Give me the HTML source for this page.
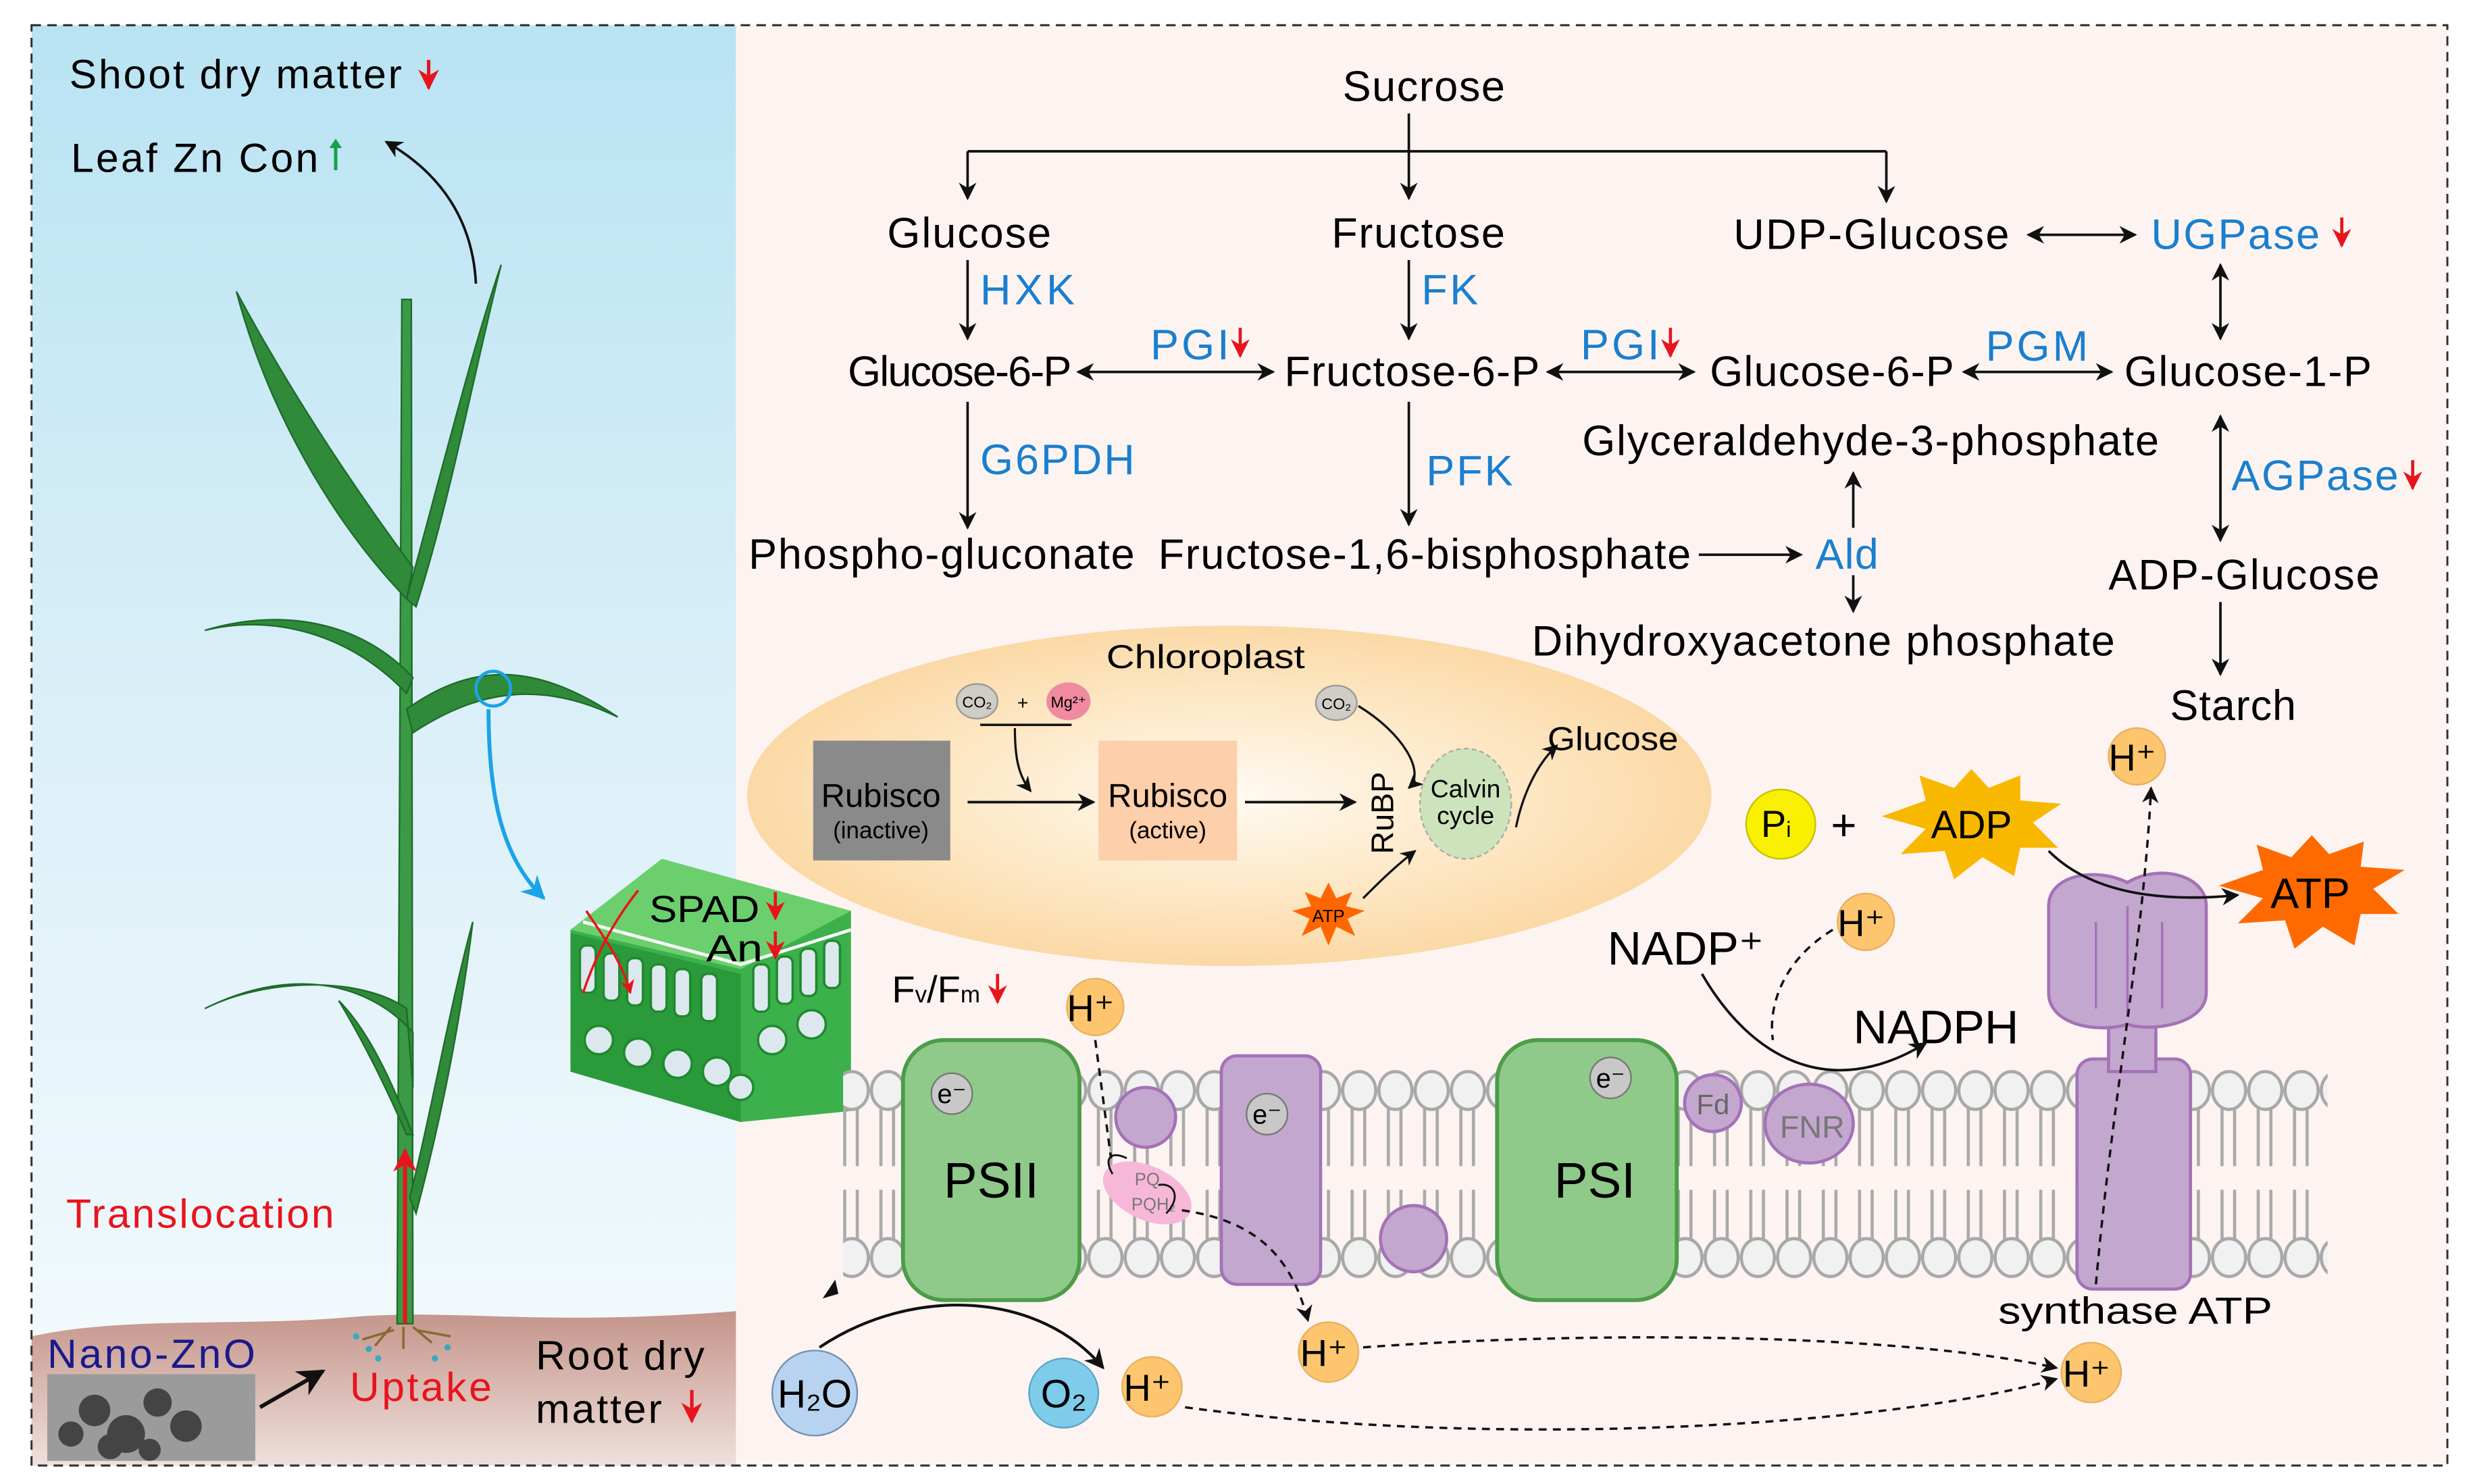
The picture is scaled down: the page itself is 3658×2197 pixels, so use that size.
<!DOCTYPE html>
<html><head><meta charset="utf-8"><style>
html,body{margin:0;padding:0;background:#fff;}
svg{display:block;}
text{font-family:"Liberation Sans",Arial,sans-serif;}
</style></head><body>
<svg width="3658" height="2197" viewBox="0 0 1568 941.7" preserveAspectRatio="none" xmlns="http://www.w3.org/2000/svg">
<defs>
<linearGradient id="sky" x1="0" y1="0" x2="0" y2="1">
<stop offset="0" stop-color="#b9e3f3"/><stop offset="0.5" stop-color="#dcf0f8"/><stop offset="1" stop-color="#f6fbfd"/></linearGradient>
<linearGradient id="soil" x1="0" y1="0" x2="0" y2="1">
<stop offset="0" stop-color="#c4958a"/><stop offset="1" stop-color="#efe0dc"/></linearGradient>
<radialGradient id="chl" cx="0.5" cy="0.5" r="0.5">
<stop offset="0" stop-color="#fffaf2"/><stop offset="0.6" stop-color="#fde7c4"/><stop offset="1" stop-color="#fbd9a6"/></radialGradient>
<marker id="ar" viewBox="0 0 10 10" refX="9" refY="5" markerWidth="7" markerHeight="7" orient="auto-start-reverse"><path d="M0,0 L10,5 L0,10 L3,5z" fill="#111"/></marker>
<marker id="arR" viewBox="0 0 10 10" refX="9" refY="5" markerWidth="6" markerHeight="6" orient="auto"><path d="M0,0 L10,5 L0,10 L3,5z" fill="#e8141c"/></marker>
<marker id="arB" viewBox="0 0 10 10" refX="9" refY="5" markerWidth="6" markerHeight="6" orient="auto"><path d="M0,0 L10,5 L0,10 L3,5z" fill="#1aa3e8"/></marker>
<pattern id="lipT" x="0" y="0" width="23" height="942" patternUnits="userSpaceOnUse">
<line x1="7" y1="700" x2="7" y2="740" stroke="#aaa" stroke-width="2"/><line x1="15" y1="700" x2="15" y2="740" stroke="#aaa" stroke-width="2"/>
<ellipse cx="11.5" cy="692" rx="10.5" ry="12" fill="#f1f1f1" stroke="#a8a8a8" stroke-width="2"/>
<line x1="7" y1="755" x2="7" y2="790" stroke="#aaa" stroke-width="2"/><line x1="15" y1="755" x2="15" y2="790" stroke="#aaa" stroke-width="2"/>
<ellipse cx="11.5" cy="798" rx="10.5" ry="12" fill="#f1f1f1" stroke="#a8a8a8" stroke-width="2"/>
</pattern>
</defs>
<rect width="1568" height="942" fill="#fff"/>
<rect x="20" y="16" width="447" height="914" fill="url(#sky)"/>
<rect x="467" y="16" width="1086" height="914" fill="#fdf4f2"/>
<path d="M20,848 C80,835 150,842 220,836 C290,830 340,842 467,832 L467,930 L20,930z" fill="url(#soil)"/>
<rect x="20" y="16" width="1533" height="914" fill="none" stroke="#333" stroke-width="1.3" stroke-dasharray="6,4"/>

<!-- plant -->
<g fill="#2f8a3a" stroke="#1f6b2a" stroke-width="1">
<path d="M252,840 L255,190 L261,190 L262,840z" fill="#3a9a45"/>
<path d="M258,380 C210,330 170,260 150,185 C185,250 225,310 262,360z"/>
<path d="M258,380 C280,300 300,220 318,168 C300,240 285,320 264,385z"/>
<path d="M258,440 C220,400 170,390 130,400 C180,385 230,395 262,430z"/>
<path d="M258,450 C300,420 340,420 392,455 C340,430 300,440 262,465z"/>
<path d="M258,640 C230,620 170,620 130,640 C180,615 230,620 262,655 L262,690z"/>
<path d="M260,760 C275,700 285,640 300,585 C292,650 280,710 264,770z"/>
<path d="M258,720 C245,690 230,660 215,635 C235,655 250,690 262,720z"/>
</g>
<line x1="257" y1="840" x2="257" y2="730" stroke="#e8141c" stroke-width="2.5" marker-end="url(#arR)"/>
<path d="M248,842 l-10,12 M256,842 l0,14 M262,842 l12,10 M250,844 l-20,6 M264,844 l22,4" stroke="#8a6a30" stroke-width="1.5"/>
<g fill="#3aa8c0"><circle cx="226" cy="848" r="2"/><circle cx="234" cy="856" r="2"/><circle cx="284" cy="855" r="2"/><circle cx="276" cy="862" r="2"/><circle cx="240" cy="862" r="2"/></g>
<path d="M302,180 C300,140 280,110 245,90" fill="none" stroke="#111" stroke-width="1.6" marker-end="url(#ar)"/>
<circle cx="313" cy="437" r="11" fill="none" stroke="#1aa3e8" stroke-width="2"/>
<path d="M310,450 C310,510 320,545 345,570" fill="none" stroke="#1aa3e8" stroke-width="2.5" marker-end="url(#arB)"/>

<g font-size="26" lengthAdjust="spacingAndGlyphs">
<text x="44" y="56" textLength="211">Shoot dry matter</text>
<text x="45" y="109" textLength="157">Leaf Zn Con</text>
<text x="42" y="779" textLength="170" fill="#e8141c">Translocation</text>
<text x="30" y="868" textLength="132" fill="#1a1a8c">Nano-ZnO</text>
<text x="222" y="889" textLength="90" fill="#e8141c">Uptake</text>
<text x="340" y="869" textLength="107">Root dry</text>
<text x="340" y="903" textLength="80">matter</text>
</g>
<g stroke-width="2.2" fill="none">
<path d="M272,38 v18" stroke="#e8141c" marker-end="url(#arR)"/>
<path d="M213,108 v-18" stroke="#1aa050"/><path d="M209,94 l4,-6 l4,6z" fill="#1aa050"/>
<path d="M439,882 v20" stroke="#e8141c" marker-end="url(#arR)"/>
</g>
<rect x="30" y="872" width="132" height="55" fill="#9b9b9b"/>
<g fill="#444"><circle cx="60" cy="895" r="10"/><circle cx="80" cy="910" r="12"/><circle cx="100" cy="890" r="9"/><circle cx="70" cy="918" r="8"/><circle cx="118" cy="905" r="10"/><circle cx="45" cy="910" r="8"/><circle cx="95" cy="920" r="7"/></g>
<line x1="165" y1="893" x2="205" y2="870" stroke="#111" stroke-width="2.5" marker-end="url(#ar)"/>

<!-- leaf cross section -->
<g>
<polygon points="362,590 420,545 540,578 540,705 470,712 362,680" fill="#3bb04b"/>
<polygon points="362,590 420,545 540,578 470,615" fill="#6ccf6e"/>
<polygon points="362,592 470,618 470,712 362,680" fill="#2a9a3a"/>
<g fill="#dde8ee" stroke="#1e8a2e" stroke-width="1.5">
<rect x="368" y="600" width="10" height="30" rx="4"/><rect x="383" y="605" width="10" height="30" rx="4"/><rect x="398" y="608" width="10" height="30" rx="4"/><rect x="413" y="612" width="10" height="30" rx="4"/><rect x="428" y="615" width="10" height="30" rx="4"/><rect x="445" y="618" width="10" height="30" rx="4"/>
<rect x="478" y="612" width="10" height="30" rx="4"/><rect x="493" y="607" width="10" height="30" rx="4"/><rect x="508" y="602" width="10" height="30" rx="4"/><rect x="523" y="597" width="10" height="30" rx="4"/>
<circle cx="380" cy="660" r="9"/><circle cx="405" cy="668" r="9"/><circle cx="430" cy="675" r="9"/><circle cx="455" cy="680" r="9"/><circle cx="490" cy="660" r="9"/><circle cx="515" cy="650" r="9"/><circle cx="470" cy="690" r="8"/>
</g>
<path d="M370,585 L470,612 L540,590" stroke="#fff" stroke-width="2" fill="none"/>
</g>
<path d="M405,565 C385,590 375,615 370,630" fill="none" stroke="#e8141c" stroke-width="1.5"/>
<path d="M372,578 C380,590 395,610 400,630" fill="none" stroke="#e8141c" stroke-width="1.5" marker-end="url(#arR)"/>
<text x="412" y="585" font-size="24" textLength="70" lengthAdjust="spacingAndGlyphs">SPAD</text>
<text x="448" y="610" font-size="24" textLength="36" lengthAdjust="spacingAndGlyphs">An</text>
<path d="M492,566 v17" stroke="#e8141c" stroke-width="2" marker-end="url(#arR)"/>
<path d="M492,591 v17" stroke="#e8141c" stroke-width="2" marker-end="url(#arR)"/>

<!-- metabolic pathway -->
<g font-size="27" lengthAdjust="spacingAndGlyphs">
<text x="852" y="64" textLength="103">Sucrose</text>
<text x="563" y="157" textLength="104">Glucose</text>
<text x="845" y="157" textLength="110">Fructose</text>
<text x="1100" y="158" textLength="175">UDP-Glucose</text>
<text x="538" y="245" textLength="142">Glucose-6-P</text>
<text x="815" y="245" textLength="162">Fructose-6-P</text>
<text x="1085" y="245" textLength="155">Glucose-6-P</text>
<text x="1348" y="245" textLength="157">Glucose-1-P</text>
<text x="1004" y="289" textLength="366">Glyceraldehyde-3-phosphate</text>
<text x="475" y="361" textLength="245">Phospho-gluconate</text>
<text x="735" y="361" textLength="338">Fructose-1,6-bisphosphate</text>
<text x="1338" y="374" textLength="172">ADP-Glucose</text>
<text x="972" y="416" textLength="370">Dihydroxyacetone phosphate</text>
<text x="1377" y="457" textLength="80">Starch</text>
</g>
<g font-size="27" fill="#1a7fcf" lengthAdjust="spacingAndGlyphs">
<text x="622" y="193" textLength="60">HXK</text>
<text x="902" y="193" textLength="36">FK</text>
<text x="1365" y="158" textLength="107">UGPase</text>
<text x="730" y="228" textLength="50">PGI</text>
<text x="1003" y="228" textLength="50">PGI</text>
<text x="1260" y="229" textLength="65">PGM</text>
<text x="622" y="301" textLength="98">G6PDH</text>
<text x="905" y="308" textLength="55">PFK</text>
<text x="1416" y="311" textLength="106">AGPase</text>
<text x="1152" y="361" textLength="40">Ald</text>
</g>
<g stroke="#e8141c" stroke-width="2" marker-end="url(#arR)">
<path d="M1486,138 v18"/><path d="M787,208 v18"/><path d="M1060,208 v18"/><path d="M1531,292 v18"/>
</g>
<g stroke="#111" stroke-width="1.6" fill="none">
<line x1="614" y1="96" x2="1197" y2="96"/>
<line x1="614" y1="96" x2="614" y2="126" marker-end="url(#ar)"/>
<line x1="894" y1="72" x2="894" y2="126" marker-end="url(#ar)"/>
<line x1="1197" y1="96" x2="1197" y2="128" marker-end="url(#ar)"/>
<line x1="614" y1="165" x2="614" y2="215" marker-end="url(#ar)"/>
<line x1="894" y1="165" x2="894" y2="215" marker-end="url(#ar)"/>
<line x1="684" y1="236" x2="808" y2="236" marker-start="url(#ar)" marker-end="url(#ar)"/>
<line x1="982" y1="236" x2="1075" y2="236" marker-start="url(#ar)" marker-end="url(#ar)"/>
<line x1="1246" y1="236" x2="1340" y2="236" marker-start="url(#ar)" marker-end="url(#ar)"/>
<line x1="1287" y1="149" x2="1355" y2="149" marker-start="url(#ar)" marker-end="url(#ar)"/>
<line x1="1409" y1="168" x2="1409" y2="215" marker-start="url(#ar)" marker-end="url(#ar)"/>
<line x1="1409" y1="264" x2="1409" y2="343" marker-start="url(#ar)" marker-end="url(#ar)"/>
<line x1="1409" y1="382" x2="1409" y2="428" marker-end="url(#ar)"/>
<line x1="614" y1="255" x2="614" y2="335" marker-end="url(#ar)"/>
<line x1="894" y1="255" x2="894" y2="333" marker-end="url(#ar)"/>
<line x1="1078" y1="352" x2="1143" y2="352" marker-end="url(#ar)"/>
<line x1="1176" y1="335" x2="1176" y2="300" marker-end="url(#ar)"/>
<line x1="1176" y1="365" x2="1176" y2="388" marker-end="url(#ar)"/>
</g>

<!-- chloroplast -->
<ellipse cx="780" cy="505" rx="306" ry="108" fill="url(#chl)"/>
<text x="702" y="424" font-size="21" textLength="126" lengthAdjust="spacingAndGlyphs">Chloroplast</text>
<ellipse cx="620" cy="445" rx="13" ry="11" fill="#d0ccc6" stroke="#999"/>
<text x="620" y="449" font-size="10" text-anchor="middle">CO₂</text>
<text x="649" y="450" font-size="12" text-anchor="middle">+</text>
<ellipse cx="678" cy="445" rx="14" ry="12" fill="#f08aa0"/>
<text x="678" y="449" font-size="10" text-anchor="middle">Mg²⁺</text>
<line x1="622" y1="460" x2="680" y2="460" stroke="#111" stroke-width="1.5"/>
<path d="M644,462 C644,480 646,492 654,502" fill="none" stroke="#111" stroke-width="1.4" marker-end="url(#ar)"/>
<rect x="516" y="470" width="87" height="76" fill="#8a8a8a"/>
<text x="559" y="512" font-size="21" text-anchor="middle">Rubisco</text>
<text x="559" y="532" font-size="15" text-anchor="middle">(inactive)</text>
<rect x="697" y="470" width="88" height="76" fill="#fdcfaa"/>
<text x="741" y="512" font-size="21" text-anchor="middle">Rubisco</text>
<text x="741" y="532" font-size="15" text-anchor="middle">(active)</text>
<line x1="614" y1="509" x2="694" y2="509" stroke="#111" stroke-width="1.6" marker-end="url(#ar)"/>
<line x1="790" y1="509" x2="860" y2="509" stroke="#111" stroke-width="1.6" marker-end="url(#ar)"/>
<text x="0" y="0" font-size="20" transform="translate(884,542) rotate(-90)">RuBP</text>
<ellipse cx="848" cy="446" rx="13" ry="11" fill="#d0ccc6" stroke="#999"/>
<text x="848" y="450" font-size="10" text-anchor="middle">CO₂</text>
<path d="M862,448 C890,465 905,490 894,500" fill="none" stroke="#111" stroke-width="1.4" marker-end="url(#ar)"/>
<ellipse cx="930" cy="510" rx="29" ry="35" fill="#cde3bc" stroke="#aaa" stroke-dasharray="3,2"/>
<text x="930" y="506" font-size="16" text-anchor="middle">Calvin</text>
<text x="930" y="523" font-size="16" text-anchor="middle">cycle</text>
<path d="M962,525 C966,505 975,485 988,473" fill="none" stroke="#111" stroke-width="1.4" marker-end="url(#ar)"/>
<text x="982" y="476" font-size="21" textLength="83" lengthAdjust="spacingAndGlyphs">Glucose</text>
<polygon points="843,560 848,570 858,566 854,575 866,578 855,583 860,594 848,588 843,600 838,588 826,594 831,583 820,578 832,575 828,566 838,570" fill="#ff6600"/>
<text x="843" y="585" font-size="11" text-anchor="middle">ATP</text>
<path d="M865,570 C875,560 885,550 898,540" fill="none" stroke="#111" stroke-width="1.4" marker-end="url(#ar)"/>

<!-- membrane -->
<rect x="535" y="678" width="942" height="134" fill="url(#lipT)"/>
<rect x="573" y="660" width="112" height="165" rx="26" fill="#8fca8a" stroke="#4c9c48" stroke-width="2.5"/>
<text x="629" y="760" font-size="32" text-anchor="middle">PSII</text>
<circle cx="604" cy="694" r="13" fill="#c8c8c8" stroke="#777"/><text x="604" y="700" font-size="17" text-anchor="middle">e⁻</text>
<rect x="950" y="660" width="114" height="165" rx="26" fill="#8fca8a" stroke="#4c9c48" stroke-width="2.5"/>
<text x="1012" y="760" font-size="32" text-anchor="middle">PSI</text>
<circle cx="1022" cy="684" r="13" fill="#c8c8c8" stroke="#777"/><text x="1022" y="690" font-size="17" text-anchor="middle">e⁻</text>
<circle cx="727" cy="709" r="19" fill="#c4a7cf" stroke="#a472b7" stroke-width="2"/>
<rect x="775" y="670" width="63" height="145" rx="10" fill="#c4a7cf" stroke="#a472b7" stroke-width="2"/>
<circle cx="804" cy="707" r="13" fill="#c8c8c8" stroke="#777"/><text x="804" y="713" font-size="17" text-anchor="middle">e⁻</text>
<circle cx="897" cy="786" r="21" fill="#c4a7cf" stroke="#a472b7" stroke-width="2"/>
<ellipse cx="728" cy="757" rx="30" ry="17" transform="rotate(25 728 757)" fill="#f7b8d8"/>
<text x="728" y="752" font-size="11" fill="#777" text-anchor="middle">PQ</text>
<text x="732" y="768" font-size="11" fill="#777" text-anchor="middle">PQH₂</text>
<circle cx="1087" cy="700" r="18" fill="#c4a7cf" stroke="#a472b7" stroke-width="2"/>
<text x="1087" y="707" font-size="18" fill="#666" text-anchor="middle">Fd</text>
<ellipse cx="1148" cy="713" rx="28" ry="25" fill="#c4a7cf" stroke="#a472b7" stroke-width="2"/>
<text x="1150" y="722" font-size="20" fill="#777" text-anchor="middle">FNR</text>
<g fill="#c4a7cf" stroke="#a472b7" stroke-width="2">
<rect x="1318" y="672" width="72" height="146" rx="10"/>
<rect x="1338" y="640" width="30" height="40"/>
<path d="M1300,575 C1300,555 1330,550 1350,560 C1370,548 1400,555 1400,575 L1400,630 C1400,650 1365,655 1350,650 C1330,656 1300,650 1300,630z"/>
</g>
<path d="M1330,585 L1330,640 M1350,575 L1350,645 M1372,585 L1372,640" stroke="#a472b7" stroke-width="1.5"/>
<text x="1268" y="840" font-size="24" textLength="174" lengthAdjust="spacingAndGlyphs">synthase ATP</text>

<g fill="#fcc56e" stroke="#e8b060">
<circle cx="695" cy="639" r="18"/><circle cx="1184" cy="585" r="18"/><circle cx="1356" cy="480" r="18"/>
<circle cx="843" cy="858" r="19"/><circle cx="731" cy="880" r="19"/><circle cx="1327" cy="871" r="19"/>
</g>
<g font-size="24" text-anchor="middle">
<text x="692" y="648">H⁺</text><text x="1181" y="594">H⁺</text><text x="1353" y="489">H⁺</text>
<text x="840" y="867">H⁺</text><text x="728" y="889">H⁺</text><text x="1324" y="880">H⁺</text>
</g>
<circle cx="517" cy="884" r="27" fill="#b8d3ef" stroke="#6f8fb3"/>
<text x="517" y="893" font-size="25" text-anchor="middle">H₂O</text>
<circle cx="675" cy="884" r="22" fill="#7ecbea" stroke="#5aa6c8"/>
<text x="675" y="893" font-size="25" text-anchor="middle">O₂</text>
<path d="M520,855 C580,815 660,820 700,868" fill="none" stroke="#111" stroke-width="1.8" marker-end="url(#ar)"/>
<path d="M530,812 l-8,12 l10,-3z" fill="#111"/>
<text x="566" y="636" font-size="24">F<tspan font-size="15">v</tspan>/F<tspan font-size="15">m</tspan></text>
<path d="M633,618 v18" stroke="#e8141c" stroke-width="2" marker-end="url(#arR)"/>

<g fill="none" stroke="#111" stroke-width="1.5" stroke-dasharray="5,4">
<path d="M695,660 L705,735"/>
<path d="M750,768 C800,775 820,800 830,838" marker-end="url(#ar)"/>
<path d="M865,855 C1000,845 1200,845 1305,868" marker-end="url(#ar)"/>
<path d="M752,893 C950,920 1200,905 1305,875" marker-end="url(#ar)"/>
<path d="M1330,815 C1340,700 1360,600 1365,500" marker-end="url(#ar)"/>
<path d="M1163,590 C1130,610 1122,640 1125,660"/>
</g>
<path d="M706,745 C700,735 705,730 715,735" fill="none" stroke="#111" stroke-width="1.2"/>
<path d="M740,770 C750,760 745,750 735,752" fill="none" stroke="#111" stroke-width="1.2"/>

<text x="1020" y="612" font-size="30">NADP⁺</text>
<text x="1176" y="662" font-size="30">NADPH</text>
<path d="M1080,618 C1110,670 1160,700 1222,662" fill="none" stroke="#111" stroke-width="1.6" marker-end="url(#ar)"/>
<circle cx="1130" cy="523" r="22" fill="#f8f000" stroke="#c8c000"/>
<text x="1127" y="531" font-size="24" text-anchor="middle">P<tspan font-size="14">i</tspan></text>
<text x="1170" y="533" font-size="28" text-anchor="middle">+</text>
<polygon points="1251,488 1262,500 1282,492 1282,508 1308,510 1290,522 1306,538 1282,538 1278,556 1258,544 1240,558 1234,540 1206,542 1222,526 1194,518 1222,508 1218,492 1240,500" fill="#f9b800"/>
<text x="1251" y="532" font-size="25" text-anchor="middle">ADP</text>
<polygon points="1467,530 1478,542 1500,534 1498,550 1526,552 1506,564 1522,580 1498,580 1494,600 1474,588 1456,602 1450,584 1420,586 1436,570 1408,562 1436,552 1432,536 1454,544" fill="#ff6a00"/>
<text x="1466" y="576" font-size="27" text-anchor="middle">ATP</text>
<path d="M1300,540 C1330,570 1380,572 1420,568" fill="none" stroke="#111" stroke-width="1.6" marker-end="url(#ar)"/>
</svg>
</body></html>
